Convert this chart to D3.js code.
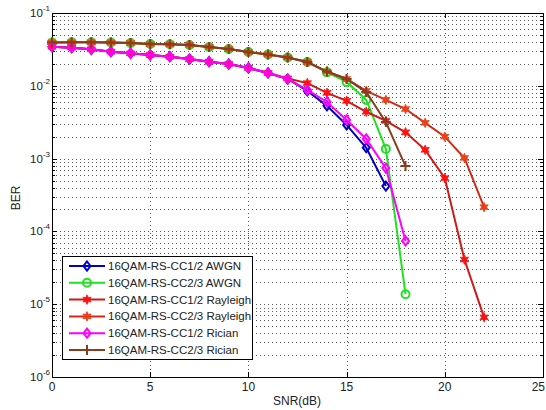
<!DOCTYPE html>
<html><head><meta charset="utf-8">
<script src="https://cdn.jsdelivr.net/npm/d3@7"></script>
<style>body{margin:0;background:#fff;}svg{display:block;font-family:"Liberation Sans",Arial,sans-serif;}</style>
</head><body>
<svg id="c" width="546" height="410"></svg>
<script>
const xTicks = [0, 5, 10, 15, 20, 25];
const yDecades = [-6, -5, -4, -3, -2, -1];
const seriesNames = ["16QAM-RS-CC1/2 AWGN","16QAM-RS-CC2/3 AWGN","16QAM-RS-CC1/2 Rayleigh","16QAM-RS-CC2/3 Rayleigh","16QAM-RS-CC1/2 Rician","16QAM-RS-CC2/3 Rician"];
const snrAwgn12 = [0,1,2,3,4,5,6,7,8,9,10,11,12,13,14,15,16,17];
const berAwgn12 = [0.0344,0.0334,0.0317,0.0294,0.0279,0.0265,0.0251,0.0233,0.0214,0.0199,0.0176,0.0150,0.0124,0.0085,0.0053,0.0029,0.00141,0.00042];
const snrAwgn23 = [0,1,2,3,4,5,6,7,8,9,10,11,12,13,14,15,16,17,18];
const berAwgn23 = [0.0394,0.0396,0.0396,0.0394,0.0387,0.0375,0.0372,0.0364,0.0341,0.0320,0.0291,0.0269,0.0245,0.0212,0.0153,0.0113,0.0064,0.00136,0.0000137];
const snrRay12 = [0,1,2,3,4,5,6,7,8,9,10,11,12,13,14,15,16,17,18,19,20,21,22];
const berRay12 = [0.0344,0.0334,0.0317,0.0294,0.0279,0.0265,0.0251,0.0233,0.0214,0.0199,0.0176,0.0150,0.0126,0.0109,0.0080,0.0062,0.0044,0.0033,0.0023,0.00132,0.00054,0.000041,0.0000066];
const snrRay23 = [0,1,2,3,4,5,6,7,8,9,10,11,12,13,14,15,16,17,18,19,20,21,22];
const berRay23 = [0.0394,0.0396,0.0396,0.0394,0.0387,0.0375,0.0372,0.0364,0.0341,0.0320,0.0291,0.0269,0.0245,0.0212,0.0157,0.0124,0.0085,0.0064,0.0048,0.0031,0.0020,0.00102,0.000215];
const snrRic12 = [0,1,2,3,4,5,6,7,8,9,10,11,12,13,14,15,16,17,18];
const berRic12 = [0.0344,0.0334,0.0317,0.0294,0.0279,0.0265,0.0251,0.0233,0.0214,0.0199,0.0176,0.0150,0.0124,0.00876,0.0060,0.0034,0.00186,0.00074,0.000074];
const snrRic23 = [0,1,2,3,4,5,6,7,8,9,10,11,12,13,14,15,16,17,18];
const berRic23 = [0.0394,0.0396,0.0396,0.0394,0.0387,0.0375,0.0372,0.0364,0.0341,0.0320,0.0291,0.0269,0.0245,0.0212,0.0157,0.0124,0.0082,0.00317,0.00079];

const L = 52, R = 543, T = 13, B = 377;
const svg = d3.select("#c");
const x = d3.scaleLinear().domain([0, 25]).range([L, R]);
const y = d3.scaleLog().domain([1e-6, 1e-1]).range([B, T]);

const series = [
  {name: seriesNames[0], xs: snrAwgn12, ys: berAwgn12, line: "#0000c8", mk: "diamond", mc: "#0000c8", fill: "none"},
  {name: seriesNames[1], xs: snrAwgn23, ys: berAwgn23, line: "#22e022", mk: "circle", mc: "#22e022", fill: "none"},
  {name: seriesNames[2], xs: snrRay12, ys: berRay12, line: "#d01818", mk: "star", mc: "#ff1010", fill: "#ff1010"},
  {name: seriesNames[3], xs: snrRay23, ys: berRay23, line: "#d02a14", mk: "star", mc: "#e8401a", fill: "#e8401a"},
  {name: seriesNames[4], xs: snrRic12, ys: berRic12, line: "#ff00ff", mk: "diamond", mc: "#ff00ff", fill: "none"},
  {name: seriesNames[5], xs: snrRic23, ys: berRic23, line: "#8a3c1c", mk: "plus", mc: "#8a3c1c", fill: "none"}
];

// grid
const grid = svg.append("g").attr("stroke", "#555").attr("stroke-width", 1).attr("stroke-dasharray", "1,3");
xTicks.slice(1, -1).forEach(t => grid.append("line").attr("x1", Math.round(x(t)) + 0.5).attr("x2", Math.round(x(t)) + 0.5).attr("y1", T).attr("y2", B));
const yMinor = [];
yDecades.forEach(d => { for (let m = 1; m <= 9; m++) { const v = m * Math.pow(10, d); if (v > 1e-6 && v < 1e-1) yMinor.push({v, major: m === 1}); } });
yMinor.forEach(o => grid.append("line").attr("x1", L).attr("x2", R).attr("y1", Math.round(y(o.v)) + 0.5).attr("y2", Math.round(y(o.v)) + 0.5));

// axis box
svg.append("rect").attr("x", L + 0.5).attr("y", T + 0.5).attr("width", R - L).attr("height", B - T).attr("fill", "none").attr("stroke", "#000").attr("stroke-width", 1);

// ticks
const tk = svg.append("g").attr("stroke", "#000").attr("stroke-width", 1);
xTicks.forEach(t => {
  const px = Math.round(x(t)) + 0.5;
  tk.append("line").attr("x1", px).attr("x2", px).attr("y1", B).attr("y2", B - 5);
  tk.append("line").attr("x1", px).attr("x2", px).attr("y1", T).attr("y2", T + 5);
});
yMinor.concat([{v: 1e-6, major: true}, {v: 1e-1, major: true}]).forEach(o => {
  const py = Math.round(y(o.v)) + 0.5, len = o.major ? 5 : 3;
  tk.append("line").attr("x1", L).attr("x2", L + len).attr("y1", py).attr("y2", py);
  tk.append("line").attr("x1", R).attr("x2", R - len).attr("y1", py).attr("y2", py);
});

// tick labels
xTicks.forEach((t, i) => {
  const last = i === xTicks.length - 1;
  svg.append("text").attr("x", last ? 545 : x(t)).attr("y", 391).attr("text-anchor", last ? "end" : "middle").attr("font-size", 12).attr("fill", "#222").text(t);
});
yDecades.forEach(d => {
  const tx = svg.append("text").attr("x", 50).attr("y", y(Math.pow(10, d)) + 4).attr("text-anchor", "end").attr("font-size", 11.5).attr("fill", "#222");
  tx.append("tspan").text("10");
  tx.append("tspan").attr("dy", -6).attr("font-size", 8).text(String(d));
});
svg.append("text").attr("x", 297).attr("y", 405).attr("text-anchor", "middle").attr("font-size", 12).attr("fill", "#222").text("SNR(dB)");
svg.append("text").attr("transform", "translate(20,198) rotate(-90)").attr("text-anchor", "middle").attr("font-size", 12).attr("fill", "#222").text("BER");

// markers
function star(r) {
  const pts = [];
  for (let i = 0; i < 12; i++) { const a = -Math.PI / 2 + i * Math.PI / 6; const rr = i % 2 ? r * 0.5 : r; pts.push([rr * Math.cos(a), rr * Math.sin(a)]); }
  return "M" + pts.map(p => p.join(",")).join("L") + "Z";
}
function drawMarker(g, s, cx, cy) {
  if (s.mk === "diamond") g.append("path").attr("d", `M${cx},${cy - 4.5}L${cx + 3.5},${cy}L${cx},${cy + 4.5}L${cx - 3.5},${cy}Z`).attr("fill", "none").attr("stroke", s.mc).attr("stroke-width", 2);
  else if (s.mk === "circle") g.append("circle").attr("cx", cx).attr("cy", cy).attr("r", 4).attr("fill", "none").attr("stroke", s.mc).attr("stroke-width", 2);
  else if (s.mk === "star") g.append("path").attr("d", star(4.8)).attr("transform", `translate(${cx},${cy})`).attr("fill", s.fill).attr("stroke", s.mc).attr("stroke-width", 0.8);
  else if (s.mk === "plus") g.append("path").attr("d", `M${cx - 5},${cy}H${cx + 5}M${cx},${cy - 5}V${cy + 5}`).attr("stroke", s.mc).attr("stroke-width", 2);
}

const line = d3.line().x(d => x(d[0])).y(d => y(d[1]));
series.forEach(s => {
  const pts = s.xs.map((v, i) => [v, s.ys[i]]);
  const g = svg.append("g");
  g.append("path").datum(pts).attr("d", line).attr("fill", "none").attr("stroke", s.line).attr("stroke-width", 2);
  pts.forEach(p => drawMarker(g, s, x(p[0]), y(p[1])));
});

// legend
const lg = svg.append("g");
lg.append("rect").attr("x", 62.5).attr("y", 256.5).attr("width", 190).attr("height", 103).attr("fill", "#fff").attr("stroke", "#000").attr("stroke-width", 1);
series.forEach((s, i) => {
  const ly = 266 + i * 16.8;
  lg.append("line").attr("x1", 69).attr("x2", 105).attr("y1", ly).attr("y2", ly).attr("stroke", s.line).attr("stroke-width", 2);
  drawMarker(lg, s, 87, ly);
  lg.append("text").attr("x", 108).attr("y", ly + 4).attr("font-size", 11.5).attr("fill", "#222").text(s.name);
});
</script>
</body></html>
